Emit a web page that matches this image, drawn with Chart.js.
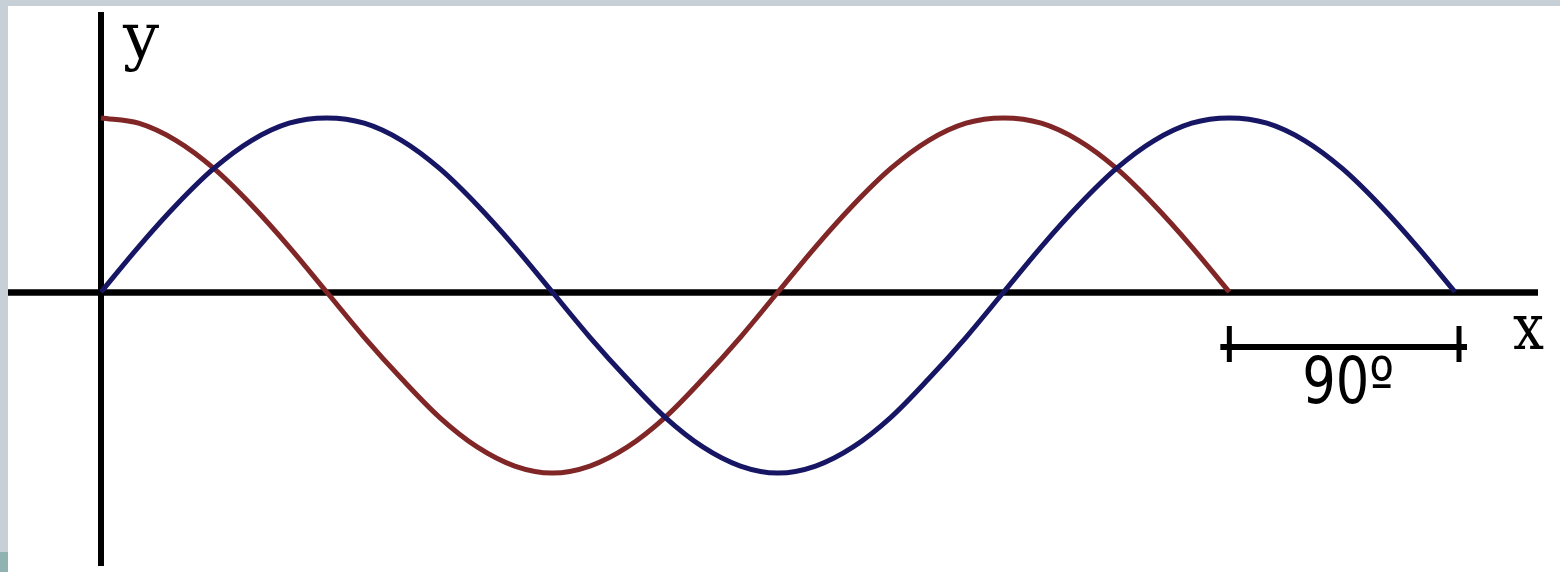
<!DOCTYPE html>
<html>
<head>
<meta charset="utf-8">
<title>Seno y coseno</title>
<script src="https://cdn.jsdelivr.net/npm/chart.js@4.4.1/dist/chart.umd.min.js"></script>
<style>
  html, body { margin: 0; padding: 0; background: #ffffff; }
  canvas { display: block; }
</style>
</head>
<body>
<canvas id="chart" width="1560" height="572"></canvas>
<script>
// Angles in degrees, sampled every 15º
const sineAngles = [0, 15, 30, 45, 60, 75, 90, 105, 120, 135, 150, 165, 180,
  195, 210, 225, 240, 255, 270, 285, 300, 315, 330, 345, 360,
  375, 390, 405, 420, 435, 450, 465, 480, 495, 510, 525, 540];
const sineValues = [0, 0.26, 0.5, 0.71, 0.87, 0.97, 1, 0.97, 0.87, 0.71, 0.5, 0.26, 0,
  -0.26, -0.5, -0.72, -0.89, -1.0, -1.04, -1.0, -0.89, -0.72, -0.5, -0.26, 0,
  0.26, 0.5, 0.71, 0.87, 0.97, 1, 0.97, 0.87, 0.71, 0.5, 0.26, 0];

const cosineAngles = [0, 15, 30, 45, 60, 75, 90, 105, 120, 135, 150, 165, 180,
  195, 210, 225, 240, 255, 270, 285, 300, 315, 330, 345, 360,
  375, 390, 405, 420, 435, 450];
const cosineValues = [1, 0.97, 0.87, 0.71, 0.5, 0.26, 0, -0.26, -0.5, -0.72, -0.89, -1.0, -1.04,
  -1.0, -0.89, -0.72, -0.5, -0.26, 0, 0.26, 0.5, 0.71, 0.87, 0.97, 1,
  0.97, 0.87, 0.71, 0.5, 0.26, 0];

// Phase marker: a 90º span starting where the cosine ends
const markerStart = 450;
const markerSpan = 90;
const markerLabel = '90º';
const axisLabelX = 'x';
const axisLabelY = 'y';

const toPoints = (xs, ys) => xs.map((x, i) => ({ x: x, y: ys[i] }));

const INK = '#000000';

// Frame, axes, and annotations drawn around the curves
const decorations = {
  id: 'decorations',
  beforeDraw(chart) {
    const ctx = chart.ctx;
    const w = chart.width, h = chart.height;
    ctx.save();
    ctx.fillStyle = '#ffffff';
    ctx.fillRect(0, 0, w, h);
    ctx.fillStyle = '#c6d0d6';
    ctx.fillRect(0, 0, w, 6);
    ctx.fillRect(0, 0, 8, h);
    ctx.fillStyle = '#8fb3b1';
    ctx.fillRect(0, 552, 8, h - 552);
    ctx.restore();
  },
  beforeDatasetsDraw(chart) {
    const ctx = chart.ctx;
    const xs = chart.scales.x, ys = chart.scales.y;
    const ox = xs.getPixelForValue(0);
    const oy = ys.getPixelForValue(0);
    ctx.save();
    ctx.strokeStyle = INK;
    ctx.lineCap = 'butt';
    ctx.lineWidth = 6.5;
    ctx.beginPath();
    ctx.moveTo(8, oy + 0.5);
    ctx.lineTo(1538, oy + 0.5);
    ctx.stroke();
    ctx.lineWidth = 6;
    ctx.beginPath();
    ctx.moveTo(ox, 12);
    ctx.lineTo(ox, 566);
    ctx.stroke();
    ctx.restore();
  },
  afterDraw(chart) {
    const ctx = chart.ctx;
    const xs = chart.scales.x, ys = chart.scales.y;
    const ox = xs.getPixelForValue(0);
    const oy = ys.getPixelForValue(0);
    ctx.save();
    ctx.fillStyle = INK;
    ctx.strokeStyle = INK;

    // axis names
    ctx.font = '64px "DejaVu Serif", "Liberation Serif", serif';
    ctx.textAlign = 'center';
    ctx.textBaseline = 'alphabetic';
    ctx.fillText(axisLabelY, ox + 40, 58, 38);
    ctx.fillText(axisLabelX, 1528.5, oy + 57, 31);

    // 90º span bracket
    const x1 = xs.getPixelForValue(markerStart);
    const x2 = xs.getPixelForValue(markerStart + markerSpan);
    const by = oy + 55;
    ctx.lineWidth = 6;
    ctx.beginPath();
    ctx.moveTo(x1 - 9, by);
    ctx.lineTo(x2 + 12, by);
    ctx.stroke();
    ctx.lineWidth = 5;
    ctx.beginPath();
    ctx.moveTo(x1, by - 21);
    ctx.lineTo(x1, by + 15);
    ctx.moveTo(x2 + 4, by - 21);
    ctx.lineTo(x2 + 4, by + 15);
    ctx.stroke();

    ctx.font = '64px "DejaVu Sans", "Liberation Sans", sans-serif';
    ctx.textAlign = 'center';
    ctx.fillText(markerLabel, (x1 + x2) / 2 + 6, oy + 111, 92);
    ctx.restore();
  }
};

new Chart(document.getElementById('chart'), {
  type: 'line',
  data: {
    datasets: [
      {
        label: 'sen x',
        data: toPoints(sineAngles, sineValues),
        borderColor: '#161664',
        borderWidth: 5,
        pointRadius: 0,
        cubicInterpolationMode: 'monotone',
        fill: false,
        clip: false
      },
      {
        label: 'cos x',
        data: toPoints(cosineAngles, cosineValues),
        borderColor: '#802626',
        borderWidth: 5,
        pointRadius: 0,
        cubicInterpolationMode: 'monotone',
        fill: false,
        clip: false
      }
    ]
  },
  options: {
    responsive: false,
    devicePixelRatio: 1,
    animation: false,
    layout: { padding: { left: 101, right: 105, top: 118, bottom: 99 } },
    scales: {
      x: { type: 'linear', min: 0, max: 540, display: false },
      y: { type: 'linear', min: -1.04, max: 1.0, display: false }
    },
    plugins: {
      legend: { display: false },
      tooltip: { enabled: false }
    }
  },
  plugins: [decorations]
});
</script>
</body>
</html>
